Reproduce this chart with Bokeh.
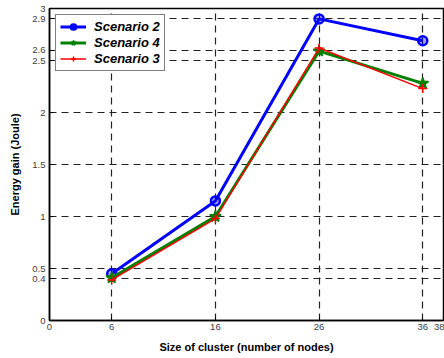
from bokeh.plotting import figure
from bokeh.models import FixedTicker, Range1d, Legend, LegendItem
from bokeh.embed import file_html
from bokeh.resources import INLINE

nodes = [6, 16, 26, 36]
scenario2 = [0.45, 1.15, 2.9, 2.69]
scenario4 = [0.41, 1.0, 2.59, 2.28]
scenario3 = [0.39, 0.98, 2.62, 2.23]
x_ticks = [0, 6, 16, 26, 36, 38]
y_ticks = [0, 0.4, 0.5, 1, 1.5, 2, 2.5, 2.6, 2.9, 3]

p = figure(frame_width=394, frame_height=312, output_backend="svg", toolbar_location=None,
           x_range=Range1d(0, 38), y_range=Range1d(0, 3),
           min_border_left=49, min_border_right=1, min_border_top=8, min_border_bottom=37)
p.background_fill_color = "white"
p.border_fill_color = "white"
p.outline_line_color = "black"
p.outline_line_width = 1.5

for ax in (p.xaxis[0], p.yaxis[0]):
    ax.major_tick_in = 4
    ax.major_tick_out = 0
    ax.minor_tick_line_color = None
    ax.axis_line_color = "black"
    ax.axis_line_width = 1.5
    ax.major_label_text_font = "Liberation Sans"
    ax.major_label_text_font_size = "9.5px"
    ax.major_label_text_color = "#404040"
    ax.axis_label_text_font = "Liberation Sans"
    ax.axis_label_text_font_style = "bold"
    ax.axis_label_text_font_size = "11px"
    ax.axis_label_text_color = "black"

p.xaxis.ticker = FixedTicker(ticks=x_ticks)
p.yaxis.ticker = FixedTicker(ticks=y_ticks)
p.xaxis.axis_label = "Size of cluster (number of nodes)"
p.yaxis.axis_label = "Energy gain (Joule)"
p.xaxis.major_label_standoff = 3
p.yaxis.major_label_standoff = 4
p.xaxis.axis_label_standoff = 8
p.yaxis.axis_label_standoff = 8

for g in (p.xgrid[0], p.ygrid[0]):
    g.grid_line_color = "#222222"
    g.grid_line_dash = "7 5"
    g.grid_line_width = 1.2

l2 = p.line(nodes, scenario2, line_color="#0000ff", line_width=3)
m2 = p.scatter(nodes, scenario2, marker="circle", size=9, line_color="#0000ff",
               line_width=2.5, fill_color="#0000ff", fill_alpha=0.35)
l4 = p.line(nodes, scenario4, line_color="#008000", line_width=3)
m4 = p.scatter(nodes, scenario4, marker="star", size=12, line_color="#008000",
               line_width=1.5, fill_color="#008000")
l3 = p.line(nodes, scenario3, line_color="#ff0000", line_width=1.5)
m3 = p.scatter(nodes, scenario3, marker="cross", size=9, line_color="#ff0000",
               line_width=1.5)

legend = Legend(items=[
    LegendItem(label="Scenario 2", renderers=[l2, m2]),
    LegendItem(label="Scenario 4", renderers=[l4, m4]),
    LegendItem(label="Scenario 3", renderers=[l3, m3]),
], location="top_left")
legend.label_text_font = "Liberation Sans"
legend.label_text_font_style = "bold italic"
legend.label_text_font_size = "13px"
legend.label_text_line_height = 1.0
legend.label_text_color = "black"
legend.border_line_color = "black"
legend.border_line_width = 1.5
legend.glyph_width = 26
legend.glyph_height = 13
legend.label_height = 13
legend.spacing = 1
legend.padding = 4
legend.margin = 6
legend.label_standoff = 8
legend.background_fill_alpha = 1.0
p.add_layout(legend)

open("out.html", "w").write(file_html(p, INLINE))
